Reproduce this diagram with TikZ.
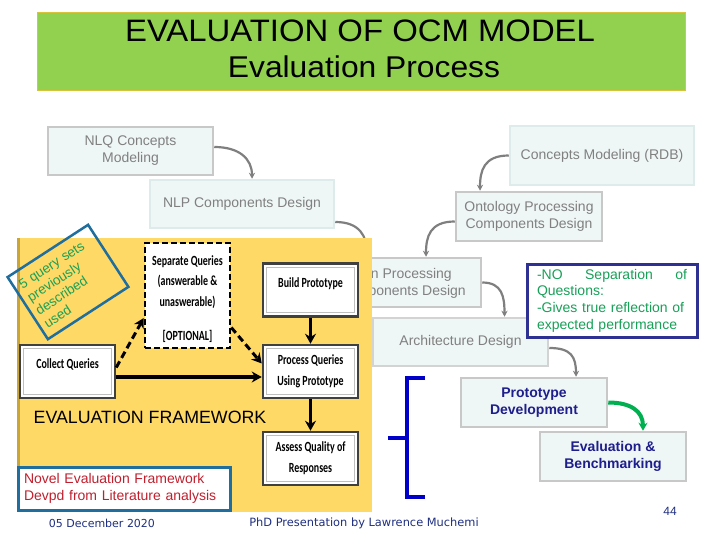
\documentclass[tikz,border=0pt]{standalone}
\usepackage{fontspec}
\setmainfont{Liberation Sans}
\newfontfamily\titlefont[FakeStretch=1.06]{Liberation Sans}
\newfontfamily\narrowbold[FakeStretch=0.71]{Carlito}
\newfontfamily\footfont{DejaVu Sans}
\usepackage{tikz}
\usetikzlibrary{shapes,arrows.meta,positioning,calc}
\usepackage{xcolor}
\definecolor{titlegreen}{HTML}{92D050}
\definecolor{titleedge}{HTML}{D8C33A}
\definecolor{boxfill}{HTML}{EFF6F6}
\definecolor{boxgray}{HTML}{C8C8C8}
\definecolor{boxpale}{HTML}{DDEBEB}
\definecolor{textgray}{HTML}{808080}
\definecolor{arrowgray}{HTML}{7F7F7F}
\definecolor{navytext}{HTML}{1E1E8C}
\definecolor{notenavy}{HTML}{2E3192}
\definecolor{notegreen}{HTML}{18A058}
\definecolor{panelyellow}{HTML}{FFD966}
\definecolor{paneledge}{HTML}{C9A53A}
\definecolor{novelblue}{HTML}{1F6E9E}
\definecolor{novelred}{HTML}{C0202E}
\definecolor{greenarrow}{HTML}{00B050}
\definecolor{bracketblue}{HTML}{0000C8}
\definecolor{footnavy}{HTML}{1F2F7F}

\begin{document}
\begin{tikzpicture}[x=1pt, y=-1pt,
    procbox/.style={draw=boxgray, line width=2.5pt, fill=boxfill, text=textgray,
        font=\fontsize{14}{17}\selectfont, align=center, inner sep=0pt},
    keybox/.style={procbox, text=navytext, font=\fontsize{14}{17}\selectfont\bfseries},
    link/.style={draw=arrowgray, line width=2.2pt, -{Stealth[length=6pt,width=6pt]}},
    stagebox/.style={draw=black!75, line width=2.5pt, fill=white, inner sep=0pt,
        minimum width=95pt, minimum height=53pt, align=center,
        font=\narrowbold\bfseries\fontsize{14}{21}\selectfont},
    innerline/.style={draw=black!25, line width=1.2pt},
    flowblack/.style={line width=2.5pt, -{Stealth[length=10pt,width=11pt]}}]
    \useasboundingbox (0,0) rectangle (720,540);

    % Title bar
    \node[fill=titlegreen, draw=titleedge, line width=1pt, minimum width=648pt,
        minimum height=78pt, anchor=north west] (title) at (37,12) {};
    \node[anchor=base, font=\titlefont\fontsize{31}{34}\selectfont] (titletop) at (360,42) {EVALUATION OF OCM MODEL};
    \node[anchor=base, font=\titlefont\fontsize{30}{34}\selectfont] (titlesub) at (364,78) {Evaluation Process};

    % Process boxes
    \node[procbox, minimum width=165pt, minimum height=48pt] (nlq) at (130.5,151) {NLQ Concepts\\Modeling};
    \node[procbox, draw=boxpale, minimum width=184pt, minimum height=48pt] (nlp) at (242,204) {NLP Components Design};
    \node[procbox, draw=boxpale, minimum width=184pt, minimum height=59pt] (rdb) at (602,155.5) {Concepts Modeling (RDB)};
    \node[procbox, minimum width=146pt, minimum height=49pt] (onto) at (529,216.5) {Ontology Processing\\Components Design};
    \node[procbox, minimum width=198pt, minimum height=49pt] (info) at (382,282.5) {};
    \node[anchor=east, align=right, inner sep=0pt, text=textgray,
        font=\fontsize{14}{17}\selectfont] (infotext) at (466,283)
        {Question Processing\hspace*{14pt}\\Components Design};
    \node[procbox, draw=boxgray!80, minimum width=175pt, minimum height=48pt] (arch) at (460.5,342) {Architecture Design};
    \node[keybox, minimum width=146pt, minimum height=49pt] (proto) at (534,402.5) {Prototype\\Development};
    \node[keybox, minimum width=146pt, minimum height=49pt] (evalb) at (613,456.5) {Evaluation \&\\Benchmarking};

    % Curved links
    \draw[link] ($(nlq.east)+(0,-4)$) .. controls +(25,0) and +(0,-20) .. ($(nlp.north)+(10,0)$);
    \draw[link] (rdb.west) .. controls +(-25,0) and +(0,-20) .. ($(onto.north)+(-49,0)$);
    \draw[link] ($(onto.west)+(0,5)$) .. controls +(-25,0) and +(0,-20) .. ($(info.north)+(44,0)$);
    \draw[link] (nlp.east |- 0,222) .. controls +(25,0) and +(0,-20) .. ($(info.north)+(-15,0)$);
    \draw[link] (info.east) .. controls +(20,0) and +(0,-20) .. ($(arch.north)+(44,0)$);
    \draw[link] ($(arch.east)+(0,6)$) .. controls +(22,0) and +(0,-20) .. ($(proto.north)+(42,0)$);
    \draw[greenarrow, line width=4pt, -{Stealth[length=8pt,width=9pt]}]
        (proto.east) .. controls +(22,0) and +(0,-20) .. ($(evalb.north)+(30,0)$);

    % Evaluation framework panel
    \node[fill=panelyellow, minimum width=355pt, minimum height=274pt,
        inner sep=0pt, anchor=north west] (panel) at (17,238) {};
    \draw[paneledge, line width=2.5pt] ($(panel.north west)+(1.5,0)$) -- ($(panel.south west)+(1.5,0)$);

    \node[rotate=33, draw=novelblue, line width=2.5pt, minimum width=96pt, minimum height=74pt,
        inner sep=0pt] (querysets) at (68,282) {};
    \node[rotate=33, text width=84pt, align=left, text=notegreen, inner sep=0pt,
        font=\fontsize{13.5}{15.5}\selectfont] (querytext) at (68,282) {5 query sets\\previously\\described\\used};

    \node[draw, dashed, dash pattern=on 6pt off 3pt, line width=2.5pt, fill=white, inner sep=0pt,
        minimum width=85pt, minimum height=105pt] (sepq) at (187.5,295.5) {};
    \node[align=center, inner sep=0pt, font=\narrowbold\bfseries\fontsize{14}{20.5}\selectfont]
        (sepqtext) at (187.5,299) {Separate Queries\\(answerable \&\\unaswerable)\\[14pt][OPTIONAL]};
    \node[stagebox] (build) at (310.5,290) {Build Prototype\\[-6pt]\mbox{}};
    \node[stagebox] (collect) at (67.5,371.5) {Collect Queries\\[-6pt]\mbox{}};
    \node[stagebox] (process) at (310.5,371.5) {Process Queries\\Using Prototype};
    \node[stagebox] (assess) at (310.5,458.5) {Assess Quality of\\Responses};
    \foreach \n in {build, collect, process, assess} {
        \draw[innerline] ($(\n.north west)+(5,5)$) rectangle ($(\n.south east)+(-5,-5)$);
    }

    \draw[flowblack, line width=4pt] ($(collect.east)+(0,5.5)$) -- ($(process.west)+(0,5.5)$);
    \draw[flowblack] (build) -- (process);
    \draw[flowblack] (process) -- (assess);
    \draw[flowblack, dashed, dash pattern=on 7pt off 4pt, line width=3pt]
        ($(collect.east)+(0,-4)$) -- ($(sepq.west)+(0,22.5)$);
    \draw[flowblack, dashed, dash pattern=on 7pt off 4pt, line width=3pt]
        ($(sepq.east)+(0,32)$) -- ($(process.west)+(0,-8)$);

    \node[anchor=base, font=\fontsize{17.8}{20}\selectfont] (evalfw) at (150,423) {EVALUATION FRAMEWORK};
    \node[draw=novelblue, line width=3pt, fill=white, minimum width=212pt, minimum height=43pt,
        text width=200pt, align=left, inner sep=0pt, text=novelred,
        font=\fontsize{14}{17}\selectfont] (novel) at (124,488.5)
        {Novel Evaluation Framework\\Devpd from Literature analysis};

    % Remark on the benchmark
    \node[draw=notenavy, line width=3pt, fill=white, minimum width=170pt, minimum height=73pt,
        text width=150pt, align=left, inner sep=0pt, text=notegreen,
        font=\fontsize{14}{16.7}\selectfont] (remark) at (612,300.5)
        {-NO\hfill Separation\hfill of\\Questions:\\-Gives true reflection of\\expected performance};

    % Bracket
    \draw[bracketblue, line width=3.5pt] (425,378) -- (407,378) -- (407,497) -- (425,497);
    \draw[bracketblue, line width=3.5pt] (388,438) -- (407,438);

    % Footer
    \node[font=\footfont\fontsize{11}{13}\selectfont, text=footnavy] (date) at (102,523) {05 December 2020};
    \node[font=\footfont\fontsize{11.4}{13}\selectfont, text=footnavy] (author) at (364,523) {PhD Presentation by Lawrence Muchemi};
    \node[font=\fontsize{12}{14}\selectfont, text=footnavy] (page) at (670,511) {44};
\end{tikzpicture}
\end{document}
